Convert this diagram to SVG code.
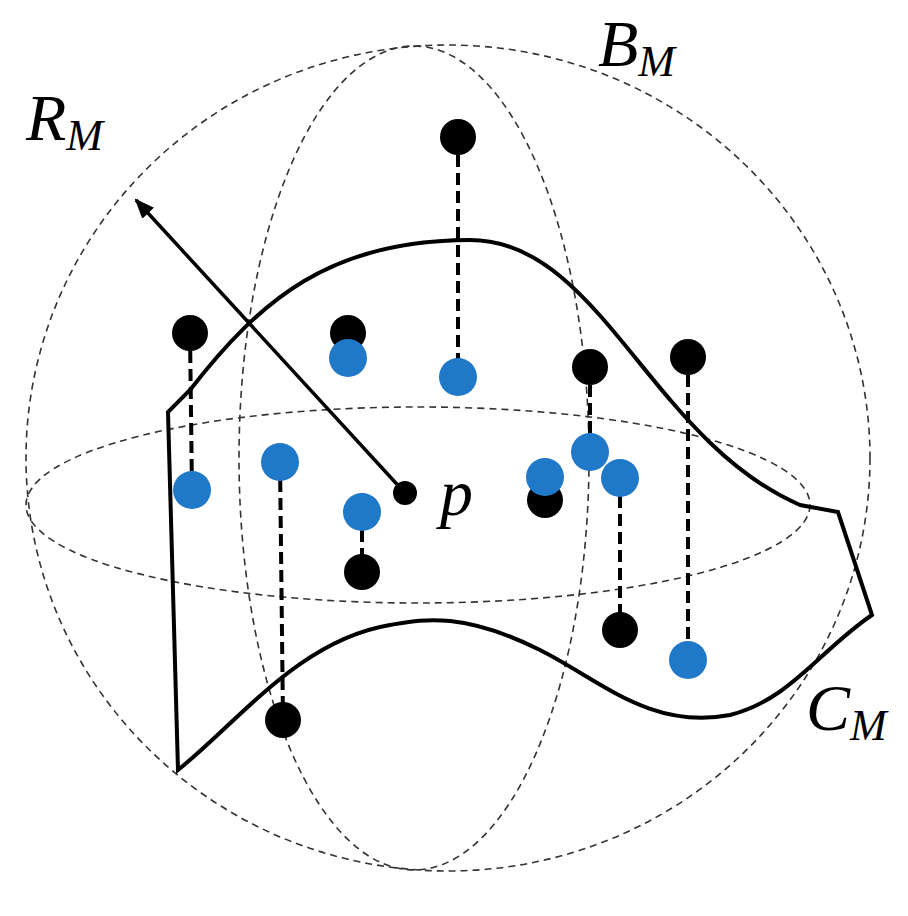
<svg xmlns="http://www.w3.org/2000/svg" width="908" height="916" viewBox="0 0 908 916">
<style>
.g{fill:none;stroke:#333;stroke-width:1.6;stroke-dasharray:7 5}
.d{stroke:#000;stroke-width:4;stroke-dasharray:12 6}
.k{fill:#000}.b{fill:#1f78c8}
.t{font-family:"Liberation Serif",serif;font-style:italic;fill:#000}
</style>
<defs><marker id="ah" markerWidth="22" markerHeight="16" refX="18" refY="8" orient="auto" markerUnits="userSpaceOnUse"><path d="M0,0L20,8L0,16z" fill="#000"/></marker></defs>
<rect width="908" height="916" fill="#fff"/>
<g id="sphere">
<ellipse class="g" cx="448" cy="458" rx="422" ry="413"/>
<ellipse class="g" cx="418" cy="505" rx="392" ry="98"/>
<ellipse class="g" cx="414" cy="458" rx="175" ry="412"/>
</g>
<g id="surface"><path d="M178,770 L168,412 L190,390 C260,300 330,240 470,240 C600,240 650,440 800,505 L838,512 L872,615 C820,650 790,700 730,715 C650,730 600,680 540,650 C460,610 420,620 390,625 C300,640 240,720 178,770 Z" fill="none" stroke="#000" stroke-width="4"/></g>
<g id="connectors">
<line class="d" x1="190" y1="333" x2="192" y2="490"/>
<line class="d" x1="458" y1="137" x2="458" y2="377"/>
<line class="d" x1="280" y1="462" x2="283" y2="720"/>
<line class="d" x1="362" y1="512" x2="362" y2="572"/>
<line class="d" x1="590" y1="367" x2="590" y2="452"/>
<line class="d" x1="620" y1="478" x2="620" y2="630"/>
<line class="d" x1="688" y1="357" x2="688" y2="660"/>
<line x1="405" y1="493" x2="136" y2="200" stroke="#000" stroke-width="3.5" marker-end="url(#ah)"/>
</g>
<g id="points">
<circle class="k" cx="190" cy="333" r="18"/><circle class="b" cx="192" cy="490" r="19"/>
<circle class="k" cx="348" cy="333" r="18"/><circle class="b" cx="348" cy="358" r="19"/>
<circle class="k" cx="458" cy="137" r="18"/><circle class="b" cx="458" cy="377" r="19"/>
<circle class="b" cx="280" cy="462" r="19"/><circle class="k" cx="283" cy="720" r="18"/>
<circle class="b" cx="362" cy="512" r="19"/><circle class="k" cx="362" cy="572" r="18"/>
<circle class="k" cx="545" cy="500" r="18"/><circle class="b" cx="545" cy="477" r="19"/>
<circle class="k" cx="590" cy="367" r="18"/><circle class="b" cx="590" cy="452" r="19"/>
<circle class="b" cx="620" cy="478" r="19"/><circle class="k" cx="620" cy="630" r="18"/>
<circle class="k" cx="688" cy="357" r="18"/><circle class="b" cx="688" cy="660" r="19"/>
<circle class="k" cx="405" cy="493" r="12"/>
</g>
<g id="labels">
<text class="t" x="26" y="140" font-size="66">R<tspan font-size="44" dy="10">M</tspan></text>
<text class="t" x="598" y="66" font-size="66">B<tspan font-size="44" dy="10">M</tspan></text>
<text class="t" x="440" y="515" font-size="66">p</text>
<text class="t" x="806" y="730" font-size="66">C<tspan font-size="44" dy="10">M</tspan></text>
</g>
</svg>
